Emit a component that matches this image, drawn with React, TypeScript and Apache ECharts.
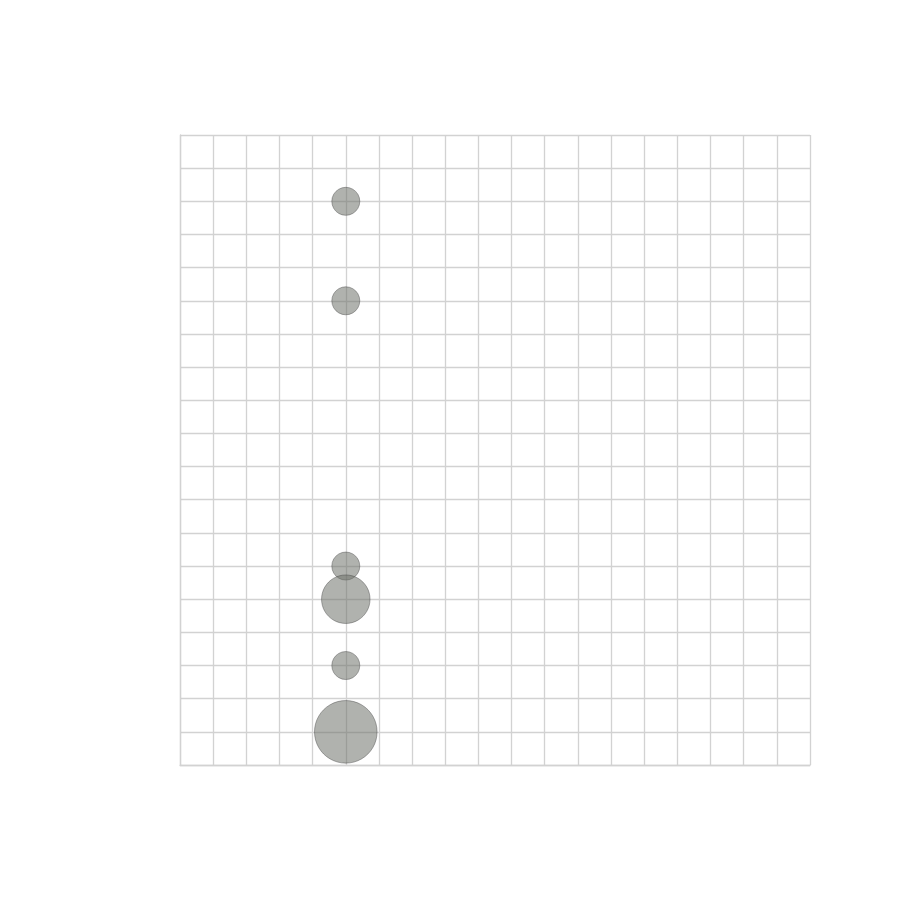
import React, { useEffect, useRef } from "react";
import * as echarts from "echarts";

const xValues = [5, 5, 5, 5, 5, 5];
const yValues = [17, 14, 6, 5, 3, 1];
const counts = [1, 1, 1, 3, 1, 5];
const axisMin = 0;
const axisMax = 19;

export default function App() {
  const ref = useRef<HTMLDivElement>(null);
  useEffect(() => {
    if (!ref.current) return;
    const chart = echarts.init(ref.current, null, { renderer: "svg" });
    const data = xValues.map((x, i) => [x, yValues[i], counts[i]]);
    const axisCommon = {
      type: "value" as const,
      min: axisMin,
      max: axisMax,
      interval: 1,
      axisLabel: { show: false },
      axisTick: { show: false },
      axisLine: { show: true, lineStyle: { color: "#d2d2d2", width: 1.3 } },
      splitLine: { show: true, lineStyle: { color: "#d2d2d2", width: 1.3 } },
    };
    chart.setOption({
      animation: false,
      backgroundColor: "#ffffff",
      grid: { left: 180, top: 135, width: 630, height: 630, containLabel: false },
      xAxis: { ...axisCommon },
      yAxis: { ...axisCommon },
      series: [
        {
          type: "scatter",
          data,
          symbolSize: (v: number[]) => 28 * Math.sqrt(v[2]),
          itemStyle: {
            color: "rgba(110,114,107,0.68)",
            borderColor: "rgba(60,60,60,0.85)",
            borderWidth: 0.6,
          },
        },
      ],
    });
    return () => chart.dispose();
  }, []);
  return (
    <div
      ref={ref}
      style={{ position: "fixed", left: 0, top: 0, width: 900, height: 900 }}
    />
  );
}
